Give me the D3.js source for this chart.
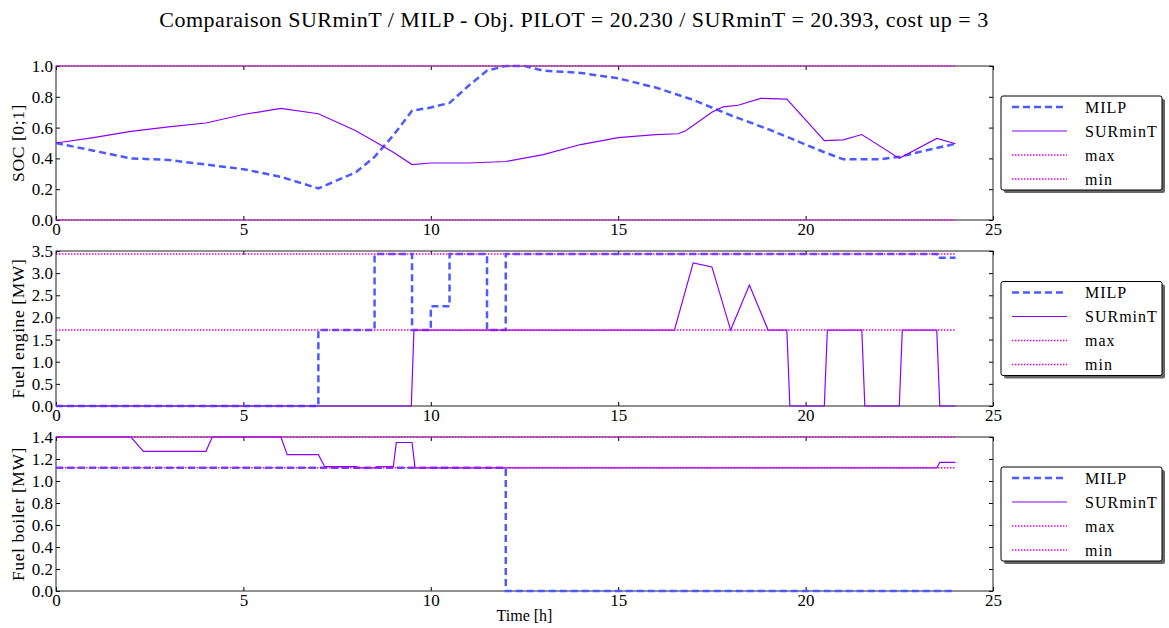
<!DOCTYPE html>
<html>
<head>
<meta charset="utf-8">
<script src="https://cdn.jsdelivr.net/npm/d3@7"></script>
<style>
  body { margin: 0; background: #fff; }
  svg { display: block; }
  text { font-family: 'Liberation Serif', 'DejaVu Serif', serif; }
</style>
</head>
<body>
<svg id="chart" width="1169" height="628"></svg>
<script>
const title = 'Comparaison SURminT / MILP - Obj. PILOT = 20.230 / SURminT = 20.393, cost up = 3'
const legendLabels = ['MILP', 'SURminT', 'max', 'min']

// SOC panel
const socTimeMilp = [0, 1, 2, 3, 4, 5, 6, 7, 8, 8.5, 9, 9.5, 10, 10.5, 11, 11.5, 12, 12.5, 13, 14, 15, 16, 17, 18, 19, 20, 20.5, 21, 22, 22.5, 23, 24]
const socMilp = [0.5, 0.45, 0.4, 0.39, 0.36, 0.33, 0.28, 0.205, 0.31, 0.41, 0.55, 0.71, 0.73, 0.76, 0.87, 0.97, 1.0, 1.0, 0.97, 0.955, 0.92, 0.86, 0.78, 0.68, 0.59, 0.49, 0.44, 0.395, 0.395, 0.41, 0.44, 0.495]
const socTimeSur = [0, 1, 2, 3, 4, 5, 6, 7, 8, 9, 9.5, 10, 11, 12, 13, 14, 15, 16, 16.6, 16.8, 17.5, 17.8, 18.2, 18.8, 19.5, 20.5, 21, 21.5, 22.5, 23.5, 24]
const socSur = [0.5, 0.535, 0.575, 0.605, 0.63, 0.685, 0.725, 0.69, 0.58, 0.44, 0.36, 0.37, 0.37, 0.38, 0.425, 0.49, 0.535, 0.555, 0.56, 0.58, 0.7, 0.735, 0.745, 0.79, 0.785, 0.515, 0.52, 0.555, 0.4, 0.53, 0.495]
const socLimits = [1.0, 0.0]

// Fuel engine panel
const engTimeMilp = [0, 7, 8.5, 9.5, 10, 10.5, 11.5, 12, 23.5, 24]
const engMilp = [0, 1.715, 3.43, 1.715, 2.25, 3.43, 1.715, 3.43, 3.35, 3.35]
const engTimeSur = [0, 9.48, 9.55, 16.5, 17, 17.5, 18, 18.5, 19, 19.5, 19.58, 20.5, 20.58, 21.5, 21.58, 22.5, 22.58, 23.5, 23.58, 24]
const engSur = [0, 0, 1.715, 1.715, 3.23, 3.14, 1.715, 2.73, 1.715, 1.715, 0, 0, 1.715, 1.715, 0, 0, 1.715, 1.715, 0, 0]
const engLimits = [3.43, 1.715]

// Fuel boiler panel
const boiTimeMilp = [0, 12, 24]
const boiMilp = [1.12, 0, 0]
const boiTimeSur = [0, 2, 2.33, 4, 4.17, 6, 6.17, 7, 7.17, 8, 8.08, 8.5, 8.58, 9, 9.08, 9.5, 9.58, 23.5, 23.58, 24]
const boiSur = [1.4, 1.4, 1.27, 1.27, 1.4, 1.4, 1.24, 1.24, 1.13, 1.13, 1.12, 1.12, 1.13, 1.13, 1.35, 1.35, 1.12, 1.12, 1.17, 1.17]
const boiLimits = [1.4, 1.12]

const xTicks = [0, 5, 10, 15, 20, 25]
const socTicks = [0, 0.2, 0.4, 0.6, 0.8, 1.0]
const engTicks = [0, 0.5, 1, 1.5, 2, 2.5, 3, 3.5]
const boiTicks = [0, 0.2, 0.4, 0.6, 0.8, 1.0, 1.2, 1.4]

const milpColor = '#4b5bff'
const surColor = '#8a00ff'
const limColor = '#e400e4'
const serif = "'Liberation Serif', 'DejaVu Serif', serif"

const panels = [
  { label: 'SOC [0;1]', top: 66, bottom: 220, ymax: 1.0, ticks: socTicks, tm: socTimeMilp, vm: socMilp, step: false, ts: socTimeSur, vs: socSur, lim: socLimits },
  { label: 'Fuel engine [MW]', top: 251, bottom: 406, ymax: 3.5, ticks: engTicks, tm: engTimeMilp, vm: engMilp, step: true, ts: engTimeSur, vs: engSur, lim: engLimits },
  { label: 'Fuel boiler [MW]', top: 437, bottom: 591, ymax: 1.4, ticks: boiTicks, tm: boiTimeMilp, vm: boiMilp, step: true, ts: boiTimeSur, vs: boiSur, lim: boiLimits },
]

const left = 56, right = 993
const svg = d3.select('#chart')

svg.append('text')
  .attr('x', 574).attr('y', 27)
  .attr('text-anchor', 'middle')
  .attr('font-family', serif)
  .attr('font-size', 22).attr('letter-spacing', 0.5)
  .text(title)

const x = d3.scaleLinear().domain([0, 25]).range([left, right])

panels.forEach(p => {
  const y = d3.scaleLinear().domain([0, p.ymax]).range([p.bottom, p.top])
  const g = svg.append('g')

  const fmt = d3.format('.1f')
  const styleAxis = sel => {
    sel.select('.domain').remove()
    sel.selectAll('.tick line').attr('stroke', '#000')
    sel.selectAll('text').attr('font-size', 17).attr('fill', '#000').attr('font-family', serif)
  }

  g.append('g').attr('transform', `translate(0,${p.bottom})`)
    .call(d3.axisBottom(x).tickValues(xTicks).tickSize(-4).tickPadding(3).tickFormat(d3.format('d')))
    .call(styleAxis)
  g.append('g').attr('transform', `translate(0,${p.top})`)
    .call(d3.axisTop(x).tickValues(xTicks).tickSize(-4).tickFormat(''))
    .call(styleAxis)
  g.append('g').attr('transform', `translate(${left},0)`)
    .call(d3.axisLeft(y).tickValues(p.ticks).tickSize(-4).tickPadding(3).tickFormat(fmt))
    .call(styleAxis)
  g.append('g').attr('transform', `translate(${right},0)`)
    .call(d3.axisRight(y).tickValues(p.ticks).tickSize(-4).tickFormat(''))
    .call(styleAxis)

  g.append('rect')
    .attr('x', left).attr('y', p.top)
    .attr('width', right - left).attr('height', p.bottom - p.top)
    .attr('fill', 'none').attr('stroke', '#222').attr('stroke-width', 1)

  g.append('text')
    .attr('transform', `translate(24,${(p.top + p.bottom) / 2}) rotate(-90)`)
    .attr('text-anchor', 'middle')
    .attr('font-family', serif)
    .attr('font-size', 17.5).attr('letter-spacing', 0.6)
    .text(p.label)

  const line = d3.line().x(d => x(d[0])).y(d => y(d[1]))
  const stepLine = d3.line().curve(d3.curveStepAfter).x(d => x(d[0])).y(d => y(d[1]))

  g.append('path')
    .datum(d3.zip(p.tm, p.vm))
    .attr('d', p.step ? stepLine : line)
    .attr('fill', 'none').attr('stroke', milpColor)
    .attr('stroke-width', 2.5).attr('stroke-dasharray', '7,4')

  g.append('path')
    .datum(d3.zip(p.ts, p.vs))
    .attr('d', line)
    .attr('fill', 'none').attr('stroke', surColor)
    .attr('stroke-width', 1.2)

  p.lim.forEach(v => {
    g.append('path')
      .datum([[0, v], [24, v]])
      .attr('d', line)
      .attr('fill', 'none').attr('stroke', limColor)
      .attr('stroke-width', 1.5).attr('stroke-dasharray', '1.5,1.5')
  })

  // legend
  const cy = (p.top + p.bottom) / 2
  const lg = svg.append('g').attr('transform', `translate(1001,${cy - 47})`)
  lg.append('rect').attr('x', 3).attr('y', 3).attr('width', 161).attr('height', 94)
    .attr('rx', 2).attr('fill', '#666')
  lg.append('rect').attr('x', 0).attr('y', 0).attr('width', 161).attr('height', 94)
    .attr('rx', 2).attr('fill', '#fff').attr('stroke', '#000').attr('stroke-width', 1)
  const styles = [
    { color: milpColor, width: 2.5, dash: '7,4' },
    { color: surColor, width: 1.2, dash: null },
    { color: limColor, width: 1.5, dash: '1.5,1.5' },
    { color: limColor, width: 1.5, dash: '1.5,1.5' },
  ]
  legendLabels.forEach((name, i) => {
    const ry = 11 + i * 24
    lg.append('line')
      .attr('x1', 11).attr('x2', 66).attr('y1', ry).attr('y2', ry)
      .attr('stroke', styles[i].color).attr('stroke-width', styles[i].width)
      .attr('stroke-dasharray', styles[i].dash)
    lg.append('text')
      .attr('x', 84).attr('y', ry + 5.5)
      .attr('font-family', serif)
      .attr('font-size', 16).attr('letter-spacing', 1)
      .text(name)
  })
})

svg.append('text')
  .attr('x', (left + right) / 2).attr('y', 621)
  .attr('text-anchor', 'middle')
  .attr('font-family', serif)
  .attr('font-size', 16)
  .text('Time [h]')
</script>
</body>
</html>
